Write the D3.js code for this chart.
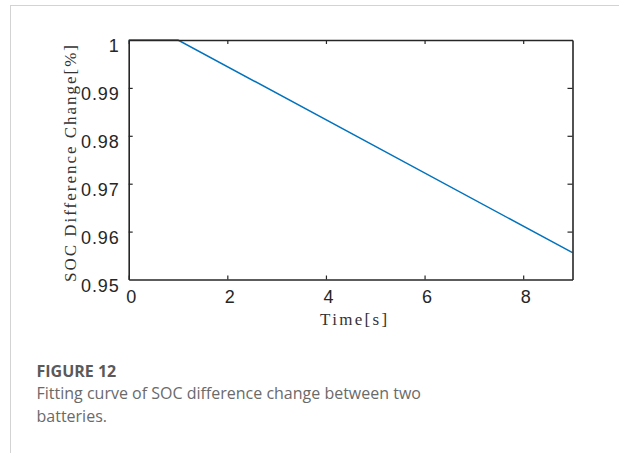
<!DOCTYPE html>
<html><head><meta charset="utf-8">
<script src="https://cdn.jsdelivr.net/npm/d3@7"></script>
<style>body{margin:0;background:#fff;}svg{display:block;}</style>
</head><body>
<script>
const timeValues = [0, 1, 9];
const socValues = [1, 1, 0.9556];
const xTicks = [0, 2, 4, 6, 8];
const yTicks = [0.95, 0.96, 0.97, 0.98, 0.99, 1];
const yTickLabels = ["0.95", "0.96", "0.97", "0.98", "0.99", "1"];
const xLabel = "Time[s]";
const yLabel = "SOC Difference Change[%]";
const figTitle = "FIGURE 12";
const captionLines = ["Fitting curve of SOC difference change between two", "batteries."];

const W = 619, H = 453;
const svg = d3.select("body").append("svg").attr("width", W).attr("height", H);

// frame
svg.append("line").attr("x1", 11).attr("x2", W).attr("y1", 5.5).attr("y2", 5.5).attr("stroke", "#d3d3d3").attr("stroke-width", 1);
svg.append("line").attr("x1", 10.5).attr("x2", 10.5).attr("y1", 5).attr("y2", H).attr("stroke", "#d3d3d3").attr("stroke-width", 1);

const L = 128.7, R = 572.5, T = 40, B = 279.5;
const x = d3.scaleLinear().domain([0, 9]).range([L, R]);
const y = d3.scaleLinear().domain([0.95, 1]).range([B, T]);

const axisColor = "#262626";
const g = svg.append("g");

// line
const data = timeValues.map((t, i) => ({t, v: socValues[i]}));
g.append("path").datum(data)
  .attr("fill", "none").attr("stroke", "#0072BD").attr("stroke-width", 1.5)
  .attr("d", d3.line().x(d => x(d.t)).y(d => y(d.v)));

// axes with inward ticks
const fmtY = d => yTickLabels[yTicks.indexOf(d)];
const axB = g.append("g").attr("transform", `translate(0,${B})`)
  .call(d3.axisBottom(x).tickValues(xTicks).tickSizeInner(-4).tickSizeOuter(0).tickPadding(11).tickFormat(d3.format("d")));
const axT = g.append("g").attr("transform", `translate(0,${T})`)
  .call(d3.axisTop(x).tickValues(xTicks).tickSizeInner(-4).tickSizeOuter(0).tickFormat(""));
const axL = g.append("g").attr("transform", `translate(${L},0)`)
  .call(d3.axisLeft(y).tickValues(yTicks).tickSizeInner(-4).tickSizeOuter(0).tickPadding(10).tickFormat(fmtY));
const axR = g.append("g").attr("transform", `translate(${R},0)`)
  .call(d3.axisRight(y).tickValues(yTicks).tickSizeInner(-5).tickSizeOuter(0).tickFormat(""));

[axB, axT, axL, axR].forEach(a => {
  a.select(".domain").attr("stroke", axisColor).attr("stroke-width", 1.6);
  a.selectAll(".tick line").attr("stroke", axisColor).attr("stroke-width", 1.2);
  a.selectAll("text").attr("fill", "#262626").attr("font-family", "'Liberation Sans', Arial, sans-serif").attr("font-size", 18).style("letter-spacing", "0.9px");
});
axB.selectAll(".tick text").attr("dx", 2.5);
axL.selectAll(".tick text").attr("dy", "0.66em").attr("dx", 0.9);
axL.selectAll(".tick").filter(d => d === 1 || d === 0.95).select("line").remove();
axR.selectAll(".tick").filter(d => d === 1 || d === 0.95).select("line").remove();

// axis labels
svg.append("text").attr("x", (L + R) / 2 + 3).attr("y", 325)
  .attr("text-anchor", "middle").attr("fill", "#333")
  .attr("font-family", "'Liberation Serif', serif").attr("font-size", 17)
  .attr("textLength", 67).attr("lengthAdjust", "spacing")
  .text(xLabel);
svg.append("text").attr("transform", `translate(75.5,163.5) rotate(-90)`)
  .attr("text-anchor", "middle").attr("fill", "#333")
  .attr("font-family", "'Liberation Serif', serif").attr("font-size", 17)
  .attr("textLength", 237).attr("lengthAdjust", "spacing")
  .text(yLabel);

// caption
svg.append("text").attr("x", 36.5).attr("y", 376.7).attr("fill", "#5a5a5a")
  .attr("font-family", "'Open Sans', sans-serif").attr("font-weight", "bold").attr("font-size", 16)
  .text(figTitle);
captionLines.forEach((s, i) => {
  svg.append("text").attr("x", 36.5).attr("y", 398.5 + i * 23.5).attr("fill", "#6a6a6a")
    .attr("font-family", "'Open Sans', sans-serif").attr("font-size", 16)
    .text(s);
});
</script>
</body></html>
